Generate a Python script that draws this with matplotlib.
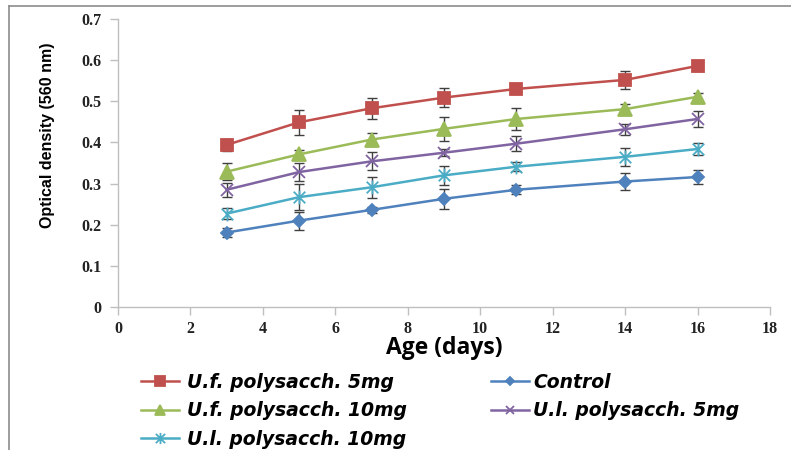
import matplotlib
matplotlib.use("Agg")
import matplotlib.pyplot as plt
from matplotlib.path import Path
from matplotlib.lines import Line2D

# Days of measurement
days = [3, 5, 7, 9, 11, 14, 16]

# Optical density (560 nm) means and standard errors
control = [0.181, 0.210, 0.236, 0.263, 0.285, 0.305, 0.316]
control_err = [0.012, 0.022, 0.008, 0.025, 0.011, 0.020, 0.017]

uf_5mg = [0.394, 0.449, 0.483, 0.509, 0.530, 0.552, 0.586]
uf_5mg_err = [0.014, 0.030, 0.025, 0.024, 0.008, 0.021, 0.012]

uf_10mg = [0.329, 0.371, 0.407, 0.433, 0.457, 0.481, 0.511]
uf_10mg_err = [0.020, 0.011, 0.015, 0.030, 0.026, 0.012, 0.008]

ul_5mg = [0.285, 0.328, 0.354, 0.375, 0.397, 0.432, 0.457]
ul_5mg_err = [0.017, 0.022, 0.022, 0.009, 0.019, 0.013, 0.020]

ul_10mg = [0.227, 0.267, 0.291, 0.320, 0.341, 0.365, 0.384]
ul_10mg_err = [0.014, 0.032, 0.026, 0.023, 0.011, 0.022, 0.014]

labels = ["U.f. polysacch. 5mg", "Control", "U.f. polysacch. 10mg",
          "U.l. polysacch. 5mg", "U.l. polysacch. 10mg"]

x_ticks = [0, 2, 4, 6, 8, 10, 12, 14, 16, 18]
y_ticks = [0, 0.1, 0.2, 0.3, 0.4, 0.5, 0.6, 0.7]

# Star marker: an X crossed with a vertical bar
star = Path([(-0.5, -0.5), (0.5, 0.5), (-0.5, 0.5), (0.5, -0.5), (0, -0.6), (0, 0.6)],
            [Path.MOVETO, Path.LINETO, Path.MOVETO, Path.LINETO, Path.MOVETO, Path.LINETO])

W, H = 791, 450
fig = plt.figure(figsize=(W / 100, H / 100), dpi=100)
ax = fig.add_axes([118 / W, 1 - 307 / H, 652 / W, 288 / H])

series = [
    (uf_5mg, uf_5mg_err, "#C0504D", "s", 9, labels[0]),
    (control, control_err, "#4F81BD", "D", 6.5, labels[1]),
    (uf_10mg, uf_10mg_err, "#9BBB59", "^", 9.5, labels[2]),
    (ul_5mg, ul_5mg_err, "#8064A2", "x", 9, labels[3]),
    (ul_10mg, ul_10mg_err, "#4BACC6", star, 10, labels[4]),
]

handles = {}
for vals, errs, col, mk, ms, lab in series:
    ax.errorbar(days, vals, yerr=errs, fmt="none", ecolor="#404040",
                elinewidth=1.0, capsize=3.5, capthick=1.0, zorder=2)
    ln, = ax.plot(days, vals, color=col, lw=1.8, marker=mk, markersize=ms,
                  markerfacecolor=col, markeredgecolor=col, markeredgewidth=1.3,
                  zorder=3, label=lab)
    handles[lab] = ln

ax.set_xlim(0, 18)
ax.set_ylim(0, 0.7)
ax.set_xticks(x_ticks)
ax.set_yticks(y_ticks)
ax.set_xticklabels([str(v) for v in x_ticks])
ax.set_yticklabels(["0" if v == 0 else f"{v:.1f}" for v in y_ticks])

for s in ("top", "right"):
    ax.spines[s].set_visible(False)
for s in ("left", "bottom"):
    ax.spines[s].set_color("#BFBFBF")
    ax.spines[s].set_linewidth(1.0)
ax.tick_params(axis="both", direction="out", length=6, width=1.0, color="#BFBFBF")
ax.tick_params(axis="y", pad=6)
ax.tick_params(axis="x", pad=4)
for t in ax.get_xticklabels() + ax.get_yticklabels():
    t.set_fontfamily(["Liberation Serif", "DejaVu Serif"])
    t.set_fontweight("bold")
    t.set_fontsize(11.5)
    t.set_color("#222222")

ax.set_xlabel("Age (days)", fontfamily=["Open Sans", "DejaVu Sans"],
              fontweight="bold", fontsize=16.5, labelpad=-1)
ax.set_ylabel("Optical density (560 nm)", fontfamily=["Liberation Sans", "DejaVu Sans"],
              fontweight="bold", fontsize=11.5)
ax.yaxis.set_label_coords(-(118 - 55) / 652, (307 - 135) / 288)

# Legend in two columns
leg_font = {"family": ["DejaVu Sans"], "weight": "bold", "style": "italic", "size": 13.5}
col1 = [labels[0], labels[2], labels[4]]
col2 = [labels[1], labels[3]]
fig.legend([handles[k] for k in col1], col1, loc="upper left",
           bbox_to_anchor=(141 / W, 1 - 373 / H), frameon=False, prop=leg_font,
           handlelength=2.0, handletextpad=0.45, labelspacing=0.5, borderpad=0,
           borderaxespad=0, markerscale=0.8)
fig.legend([handles[k] for k in col2], col2, loc="upper left",
           bbox_to_anchor=(491 / W, 1 - 373 / H), frameon=False, prop=leg_font,
           handlelength=2.0, handletextpad=0.25, labelspacing=0.5, borderpad=0,
           borderaxespad=0, markerscale=0.6)

# Outer frame lines on top and left
fig.add_artist(Line2D([9 / W, 1], [1 - 6 / H, 1 - 6 / H], transform=fig.transFigure,
                      color="#8C8C8C", lw=1.2))
fig.add_artist(Line2D([9 / W, 9 / W], [0, 1 - 6 / H], transform=fig.transFigure,
                      color="#8C8C8C", lw=1.2))

fig.savefig("out.png", dpi=100)
